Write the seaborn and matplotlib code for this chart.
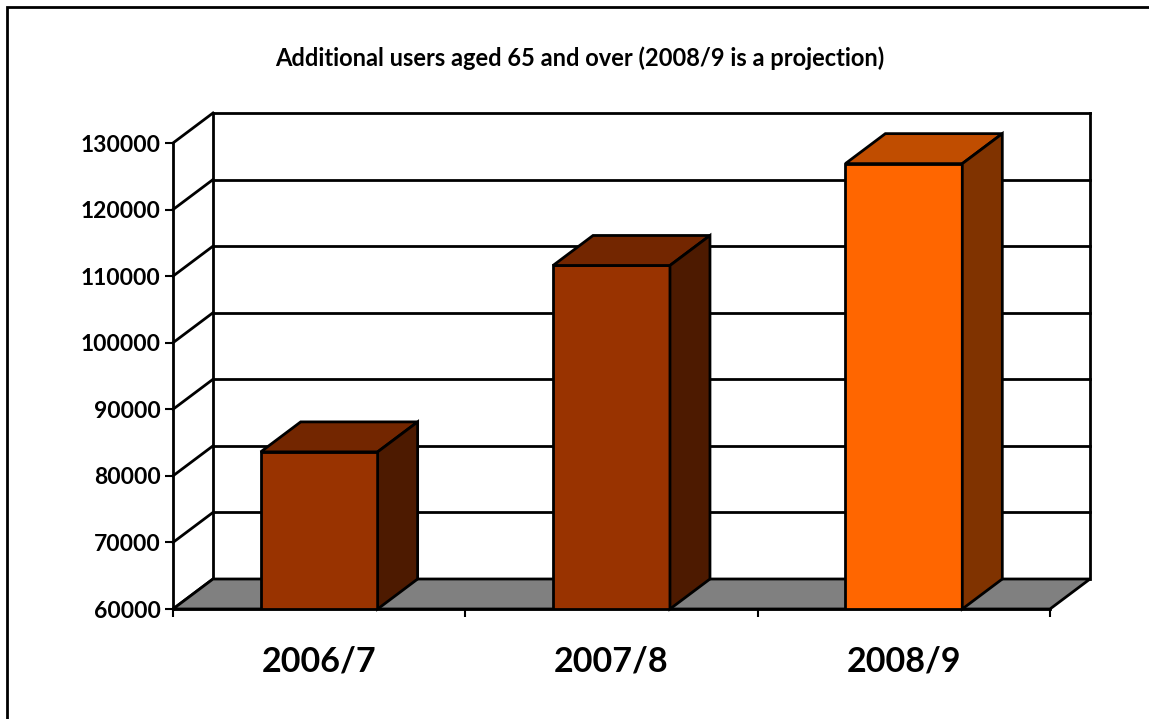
import matplotlib
matplotlib.use("Agg")
import matplotlib.pyplot as plt
import matplotlib.patches as mpatches
from matplotlib.ticker import FuncFormatter
import seaborn as sns
import pandas as pd

# data
periods = ["2006/7", "2007/8", "2008/9"]
users = [83600, 111600, 126900]
yticks = [60000, 70000, 80000, 90000, 100000, 110000, 120000, 130000]

front_cols = ["#993300", "#993300", "#FF6600"]
top_cols = ["#732600", "#732600", "#C04D00"]
side_cols = ["#4D1A00", "#4D1A00", "#803300"]

sns.set_theme(style="white")
plt.rcParams["font.family"] = ["Lato", "DejaVu Sans"]
plt.rcParams["text.color"] = "black"
plt.rcParams["xtick.color"] = "black"
plt.rcParams["ytick.color"] = "black"

W, H = 1149, 719
fig = plt.figure(figsize=(W / 100, H / 100), dpi=100)
ax = fig.add_axes([173 / W, (H - 609) / H, (1050 - 173) / W, (609 - 143) / H])

df = pd.DataFrame({"Period": periods, "Users": users})
bw = 0.4
sns.barplot(data=df, x="Period", y="Users", hue="Period", palette=front_cols,
            saturation=1, legend=False, width=bw, edgecolor="black", linewidth=2,
            ax=ax, zorder=4)

ax.set_xlim(-0.5, 2.5)
ax.set_ylim(yticks[0], yticks[-1])

# depth of the 3d box, in pixels -> data units
fig.canvas.draw()
p0 = ax.transData.transform((0, 0))
px_x = ax.transData.transform((1, 0))[0] - p0[0]
px_y = ax.transData.transform((0, 10000))[1] - p0[1]
dx = 40 / px_x
dy = 30 / px_y * 10000

lk = dict(color="black", lw=2, clip_on=False, zorder=1, solid_capstyle="projecting")
x0, x1 = -0.5, 2.5
# back wall + left wall gridlines
for t in yticks[1:]:
    ax.plot([x0 + dx, x1 + dx], [t + dy, t + dy], **lk)
for t in yticks:
    ax.plot([x0, x0 + dx], [t, t + dy], **lk)
ax.plot([x0 + dx, x0 + dx], [yticks[0] + dy, yticks[-1] + dy], **lk)
ax.plot([x1 + dx, x1 + dx], [yticks[0] + dy, yticks[-1] + dy], **lk)

# floor
y0 = yticks[0]
floor = mpatches.Polygon([(x0, y0), (x1, y0), (x1 + dx, y0 + dy), (x0 + dx, y0 + dy)],
                         closed=True, facecolor="#808080", edgecolor="black", lw=2,
                         clip_on=False, zorder=2)
ax.add_patch(floor)

# tops and sides of the bars
for i, v in enumerate(users):
    l, r = i - bw / 2, i + bw / 2
    top = mpatches.Polygon([(l, v), (r, v), (r + dx, v + dy), (l + dx, v + dy)],
                           facecolor=top_cols[i], edgecolor="black", lw=2,
                           clip_on=False, zorder=5, joinstyle="miter")
    side = mpatches.Polygon([(r, y0), (r, v), (r + dx, v + dy), (r + dx, y0 + dy)],
                            facecolor=side_cols[i], edgecolor="black", lw=2,
                            clip_on=False, zorder=5, joinstyle="miter")
    ax.add_patch(top)
    ax.add_patch(side)

# axes styling
for s in ["top", "right"]:
    ax.spines[s].set_visible(False)
for s in ["left", "bottom"]:
    ax.spines[s].set_linewidth(2)
    ax.spines[s].set_color("black")
    ax.spines[s].set_zorder(6)

ax.set_yticks(yticks)
ax.yaxis.set_major_formatter(FuncFormatter(lambda v, p: f"{int(v)}"))
ax.tick_params(axis="y", left=True, length=6, width=1.5, color="black", pad=3,
               labelsize=16.5, labelcolor="black")
ax.set_xticks([-0.5, 0.5, 1.5, 2.5], minor=True)
ax.tick_params(axis="x", which="minor", bottom=True, length=6, width=1.5, color="black")
ax.tick_params(axis="x", which="major", bottom=False, length=0, pad=26, labelsize=24.5,
               labelcolor="black")
for lab in ax.get_yticklabels() + ax.get_xticklabels():
    lab.set_fontweight("bold")
ax.set_xlabel("")
ax.set_ylabel("")
ax.set_facecolor("white")

fig.text(580 / W, (H - 58) / H, "Additional users aged 65 and over (2008/9 is a projection)",
         ha="center", va="center", fontsize=17, fontweight="bold", color="black")

# chart frame (only top and left edges fall inside the picture)
frame = mpatches.Rectangle((7 / W, -0.1), 1.2, (H - 7) / H + 0.1, transform=fig.transFigure,
                           fill=False, edgecolor="black", lw=2, clip_on=False)
fig.patches.append(frame)

fig.savefig("out.png", dpi=100, facecolor="white")
